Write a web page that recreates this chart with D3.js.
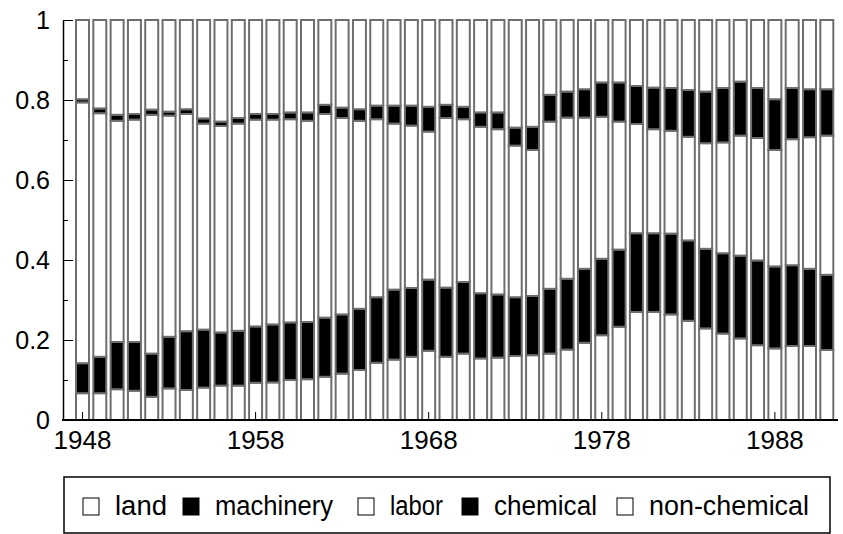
<!DOCTYPE html>
<meta charset="utf-8">
<style>
body { margin: 0; background: #fff; }
svg { display: block; }
text { font-family: "Liberation Sans", Arial, sans-serif; fill: #000; }
.bars rect { stroke: #6e6e6e; stroke-width: 2; }
.axis path, .axis line { stroke: #000; }
</style>
<svg width="843" height="534"></svg>
<script src="https://d3js.org/d3.v7.min.js"></script>
<script>

// cost shares per year
var years = d3.range(1948, 1992);

var land = [.067,.067,.077,.073,.058,.079,.075,.081,.086,.086,.093,.094,.100,.102,.108,.116,.125,.143,.151,.158,.173,.158,
            .166,.154,.156,.160,.162,.166,.176,.193,.212,.233,.270,.270,.264,.248,.229,.216,.204,.187,.179,.185,.185,.175];
var machinery = [.075,.091,.118,.122,.108,.129,.147,.145,.133,.137,.141,.145,.144,.143,.148,.148,.153,.164,.175,.172,.178,.173,
                 .179,.163,.158,.147,.148,.162,.177,.185,.191,.193,.197,.197,.202,.201,.199,.201,.207,.212,.205,.202,.193,.188];
var labor = [.652,.609,.553,.556,.597,.553,.543,.515,.516,.518,.517,.512,.508,.503,.509,.491,.470,.445,.415,.406,.370,.424,
             .407,.416,.413,.379,.365,.418,.403,.378,.355,.320,.273,.260,.257,.259,.264,.277,.300,.306,.291,.315,.329,.348];
var chemical = [.008,.012,.015,.014,.013,.010,.012,.013,.011,.014,.014,.014,.017,.021,.023,.026,.029,.034,.045,.050,.062,.033,
                .031,.036,.042,.045,.058,.067,.065,.071,.086,.098,.095,.104,.107,.117,.129,.136,.135,.125,.127,.128,.120,.116];
var nonChemical = [.198,.221,.237,.235,.224,.229,.223,.246,.254,.245,.235,.235,.231,.231,.212,.219,.223,.214,.214,.214,.217,.212,
                   .217,.231,.231,.269,.267,.187,.179,.173,.156,.156,.165,.169,.170,.175,.179,.170,.154,.170,.198,.170,.173,.173];

var keys = ["land", "machinery", "labor", "chemical", "non-chemical"];
var fills = ["#fff", "#000", "#fff", "#000", "#fff"];
var yTicks = [0, 0.2, 0.4, 0.6, 0.8, 1];
var yMinor = [0.1, 0.3, 0.5, 0.7, 0.9];
var xTicks = [1948, 1958, 1968, 1978, 1988];

// legend layout (left edge of swatch, text width)
var legendX = [83, 183, 358, 462, 617];
var legendW = [52, 118, 53, 103, 160];

var svg = d3.select("svg");

// table for the stack
var table = years.map(function(yr, i) {
  return {year: yr, "land": land[i], "machinery": machinery[i], "labor": labor[i],
          "chemical": chemical[i], "non-chemical": nonChemical[i]};
});
var series = d3.stack().keys(keys)(table);

var x = d3.scaleBand().domain(years).range([76, 833.3]).paddingInner(0.25).paddingOuter(0);
var y = d3.scaleLinear().domain([0, 1]).range([420, 20]);

// bars
var layer = svg.append("g").attr("class", "bars")
  .selectAll("g")
  .data(series)
  .enter().append("g")
  .attr("fill", function(d, i) { return fills[i]; });

layer.selectAll("rect")
  .data(function(d) { return d; })
  .enter().append("rect")
  .attr("x", function(d) { return x(d.data.year); })
  .attr("width", x.bandwidth())
  .attr("y", function(d) { return y(d[1]); })
  .attr("height", function(d) { return y(d[0]) - y(d[1]); });

// y axis, ticks point inward
var yAxis = svg.append("g").attr("class", "axis")
  .attr("transform", "translate(63,0)")
  .call(d3.axisLeft(y).tickValues(yTicks).tickSize(-10).tickSizeOuter(0).tickPadding(13)
        .tickFormat(function(d) { return String(d); }));
yAxis.select(".domain").attr("stroke-width", 1.5);
yAxis.selectAll("text").style("font-size", "25px");

svg.append("g").attr("class", "axis")
  .attr("transform", "translate(63,0)")
  .call(d3.axisLeft(y).tickValues(yMinor).tickSize(-5).tickFormat(""))
  .select(".domain").remove();

// x axis
var xAxis = svg.append("g").attr("class", "axis")
  .attr("transform", "translate(0,420)")
  .call(d3.axisBottom(x).tickValues(xTicks).tickSize(-8).tickPadding(11));
xAxis.select(".domain").remove();
xAxis.selectAll("text").style("font-size", "26px");

svg.append("line")
  .attr("x1", 62).attr("x2", 838)
  .attr("y1", 420).attr("y2", 420)
  .attr("stroke", "#000").attr("stroke-width", 2);

// legend
var legend = svg.append("g");
legend.append("rect")
  .attr("x", 64).attr("y", 477).attr("width", 766).attr("height", 56)
  .attr("fill", "none").attr("stroke", "#000").attr("stroke-width", 1.5);

keys.forEach(function(k, i) {
  legend.append("rect")
    .attr("x", legendX[i]).attr("y", 498).attr("width", 16).attr("height", 17)
    .attr("fill", fills[i]).attr("stroke", "#000").attr("stroke-width", 1);
  legend.append("text")
    .attr("x", legendX[i] + 32).attr("y", 515)
    .attr("textLength", legendW[i])
    .attr("lengthAdjust", "spacingAndGlyphs")
    .style("font-size", "27px")
    .text(k);
});

</script>
